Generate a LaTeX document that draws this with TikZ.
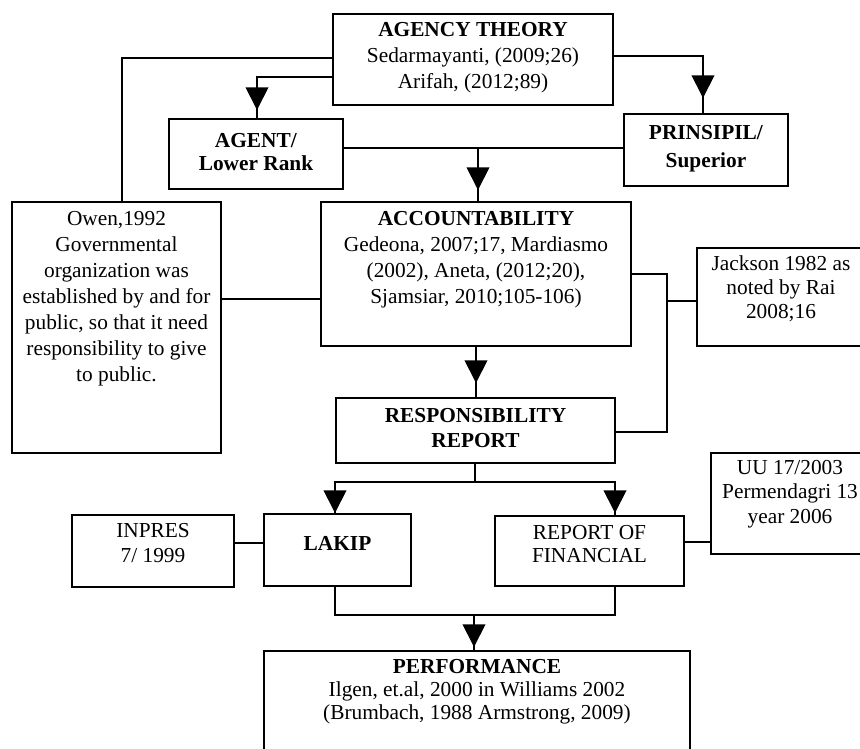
\documentclass[tikz,border=0pt]{standalone}
\usepackage{fontspec}
\setmainfont{Liberation Serif}
\usetikzlibrary{arrows.meta,calc}
\newcommand{\btext}[5]{\begin{minipage}[c][#2][t]{#1}\centering\baselineskip=#4\relax\lineskiplimit=-20pt\rule{0pt}{#3}#5\par\end{minipage}}
\begin{document}
\begin{tikzpicture}[x=0.75pt,y=-0.75pt,
  box/.style={draw, line width=1.6pt, inner sep=0pt, font=\fontsize{16}{19}\selectfont},
  conn/.style={line width=1.4pt},
  tip/.style={line width=1.4pt, -{Triangle[width=17pt,length=17pt]}}]
\useasboundingbox (0,0) rectangle (860,749);
\begin{scope}
\clip (0,0) rectangle (860,749);
% boxes
\node[box] (agency) at (473,59.5) {\btext{210pt}{68.25pt}{17.25pt}{19.5pt}{\textbf{AGENCY THEORY}\\Sedarmayanti, (2009;26)\\Arifah, (2012;89)}};
\node[box] (agent) at (256,154) {\btext{130.5pt}{52.5pt}{21pt}{17.25pt}{\textbf{AGENT/}\\\textbf{Lower Rank}}};
\node[box] (prinsipil) at (706,150) {\btext{123pt}{54pt}{18.75pt}{21pt}{\textbf{PRINSIPIL/}\\\textbf{Superior}}};
\node[box] (owen) at (116.5,327.5) {\btext{156.75pt}{188.25pt}{17.25pt}{19.5pt}{Owen,1992\\Governmental\\organization was\\established by and for\\public, so that it need\\responsibility to give\\to public.}};
\node[box] (acc) at (476,274) {\btext{232.5pt}{108pt}{17.25pt}{19.5pt}{\textbf{ACCOUNTABILITY}\\Gedeona, 2007;17, Mardiasmo\\(2002), Aneta, (2012;20),\\Sjamsiar, 2010;105-106)}};
\node[box] (jackson) at (781,297) {\btext{126pt}{73.5pt}{17pt}{18pt}{Jackson 1982 as\\noted by Rai\\2008;16}};
\node[box] (resp) at (475.5,430.5) {\btext{209.25pt}{48.75pt}{18pt}{18.75pt}{\textbf{RESPONSIBILITY}\\\textbf{REPORT}}};
\node[box] (inpres) at (153,551) {\btext{121.5pt}{54pt}{16.5pt}{18.75pt}{INPRES\\7/ 1999}};
\node[box] (lakip) at (337.5,550) {\btext{110.25pt}{54pt}{27.5pt}{18pt}{\textbf{LAKIP}}};
\node[box] (report) at (589.5,551) {\btext{141.75pt}{52.5pt}{17.25pt}{17.25pt}{REPORT OF\\FINANCIAL}};
\node[box] (uu) at (790,503.5) {\btext{118.5pt}{75.75pt}{15.75pt}{18.4pt}{UU 17/2003\\Permendagri 13\\year 2006}};
\node[box] (perf) at (477,705.5) {\btext{319.5pt}{81.75pt}{16.5pt}{17.6pt}{\textbf{PERFORMANCE}\\Ilgen, et.al, 2000 in Williams 2002\\(Brumbach, 1988 Armstrong, 2009)}};
% coordinates
\coordinate (aL) at (122,58);
\coordinate (aG) at (257,77);
\coordinate (tG) at (257,110);
\coordinate (aP) at (703,56);
\coordinate (tP) at (703,98);
\coordinate (gp) at (478,148);
\coordinate (tA) at (478,190);
\coordinate (ow) at (0,299);
\coordinate (r1) at (667,274);
\coordinate (r2) at (667,432);
\coordinate (j1) at (667,301);
\coordinate (tR) at (476,383);
\coordinate (s0) at (475,482);
\coordinate (sL) at (335,482);
\coordinate (sR) at (615,482);
\coordinate (tL) at (335,513);
\coordinate (tF) at (615,513);
\coordinate (ir) at (0,543);
\coordinate (ru) at (0,542);
\coordinate (bL) at (335,615);
\coordinate (bR) at (615,615);
\coordinate (bM) at (474,615);
\coordinate (tB) at (474,647);
% connectors
\draw[conn] (agency.west |- aL) -- (aL) -- (owen.north -| aL);
\draw[conn] (agency.west |- aG) -- (aG) -- (agent.north -| aG);
\draw[conn] (agency.east |- aP) -- (aP) -- (prinsipil.north -| aP);
\draw[conn] (agent.east |- gp) -- (prinsipil.west |- gp);
\draw[conn] (gp) -- (acc.north -| gp);
\draw[conn] (owen.east |- ow) -- (acc.west |- ow);
\draw[conn] (acc.east |- r1) -- (r1) -- (r2) -- (resp.east |- r2);
\draw[conn] (j1) -- (jackson.west |- j1);
\draw[conn] (acc.south -| tR) -- (resp.north -| tR);
\draw[conn] (resp.south -| s0) -- (s0);
\draw[conn] (lakip.north -| sL) -- (sL) -- (sR) -- (report.north -| sR);
\draw[conn] (inpres.east |- ir) -- (lakip.west |- ir);
\draw[conn] (report.east |- ru) -- (uu.west |- ru);
\draw[conn] (lakip.south -| bL) -- (bL) -- (bR) -- (report.south -| bR);
\draw[conn] (bM) -- (perf.north -| bM);
% arrow heads
\draw[tip] ($(tG)+(0,-20)$) -- (tG);
\draw[tip] ($(tP)+(0,-20)$) -- (tP);
\draw[tip] ($(tA)+(0,-20)$) -- (tA);
\draw[tip] ($(tR)+(0,-20)$) -- (tR);
\draw[tip] ($(tL)+(0,-20)$) -- (tL);
\draw[tip] ($(tF)+(0,-20)$) -- (tF);
\draw[tip] ($(tB)+(0,-20)$) -- (tB);
\end{scope}
\end{tikzpicture}
\end{document}
